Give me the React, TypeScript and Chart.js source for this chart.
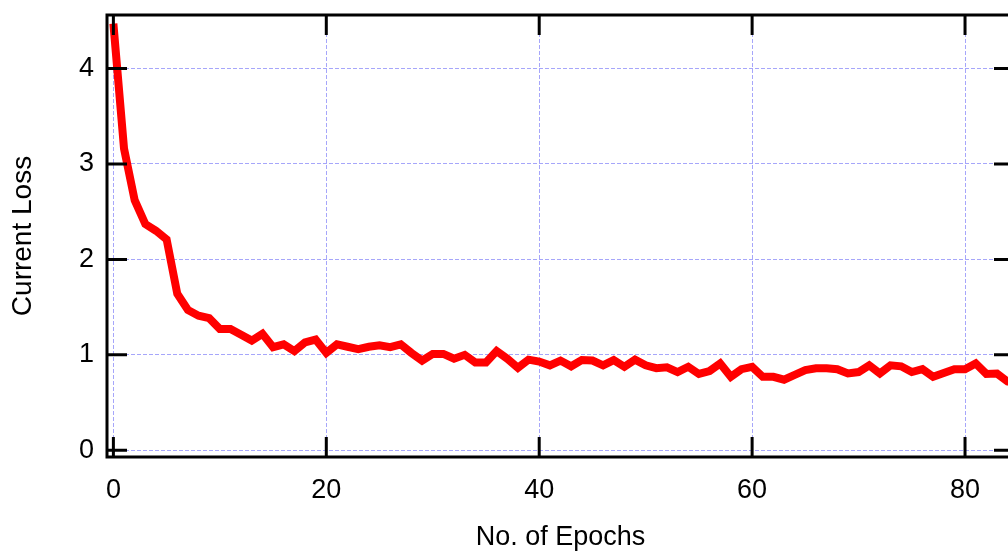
import React, { useEffect, useRef } from "react";
import { Chart, registerables } from "chart.js";

Chart.register(...registerables);

const lossValues: number[] = [
  4.47, 3.16, 2.62, 2.37, 2.30, 2.21, 1.64, 1.47, 1.41, 1.385,
  1.27, 1.27, 1.21, 1.15, 1.22, 1.08, 1.11, 1.04, 1.13, 1.16,
  1.02, 1.11, 1.085, 1.06, 1.085, 1.10, 1.08, 1.11, 1.02, 0.94,
  1.01, 1.01, 0.96, 1.00, 0.92, 0.92, 1.04, 0.96, 0.865, 0.95,
  0.93, 0.89, 0.94, 0.88, 0.945, 0.94, 0.89, 0.945, 0.875, 0.95,
  0.89, 0.86, 0.87, 0.82, 0.875, 0.80, 0.83, 0.91, 0.77, 0.85,
  0.875, 0.77, 0.77, 0.74, 0.79, 0.84, 0.86, 0.86, 0.85, 0.805,
  0.82, 0.89, 0.805, 0.89, 0.88, 0.82, 0.85, 0.77, 0.81, 0.85,
  0.85, 0.91, 0.80, 0.805, 0.72, 0.70,
];
const epochs: number[] = lossValues.map((_, i) => i);
const xTicks: number[] = [0, 20, 40, 60, 80];
const yTicks: number[] = [0, 1, 2, 3, 4];

const X_TITLE = "No. of Epochs";
const Y_TITLE = "Current Loss";

const FONT = "'Liberation Sans', Arial, sans-serif";
const GRID_COLOR = "#a6a6fa";

const framePlugin = {
  id: "gnuplotFrame",
  afterDatasetsDraw(chart: any) {
    const { ctx, chartArea } = chart;
    const { left, right, top, bottom } = chartArea;
    const xs = chart.scales.x;
    const ys = chart.scales.y;
    const tickLen = 20;
    ctx.save();
    ctx.setLineDash([]);
    ctx.strokeStyle = "#000";
    ctx.lineWidth = 3;
    ctx.lineCap = "butt";
    ctx.beginPath();
    for (const v of xTicks) {
      const px = xs.getPixelForValue(v);
      ctx.moveTo(px, bottom);
      ctx.lineTo(px, bottom - tickLen);
      ctx.moveTo(px, top);
      ctx.lineTo(px, top + tickLen);
    }
    for (const v of yTicks) {
      const py = ys.getPixelForValue(v);
      ctx.moveTo(left, py);
      ctx.lineTo(left + tickLen, py);
      ctx.moveTo(right, py);
      ctx.lineTo(right - tickLen, py);
    }
    ctx.stroke();
    ctx.strokeRect(left, top, right - left, bottom - top);
    ctx.restore();
  },
};

export default function App() {
  const ref = useRef<HTMLCanvasElement | null>(null);

  useEffect(() => {
    if (!ref.current) return;
    const chart = new Chart(ref.current, {
      type: "line",
      data: {
        datasets: [
          {
            data: epochs.map((e, i) => ({ x: e, y: lossValues[i] })),
            borderColor: "#ff0000",
            backgroundColor: "#ff0000",
            borderWidth: 8,
            pointRadius: 0,
            tension: 0,
            fill: false,
          },
        ],
      },
      options: {
        animation: false,
        responsive: false,
        maintainAspectRatio: false,
        layout: { padding: { top: 15, right: 26, left: 0, bottom: 0 } },
        plugins: {
          legend: { display: false },
          tooltip: { enabled: false },
        },
        scales: {
          x: {
            type: "linear",
            min: -0.6,
            max: 84.6,
            afterFit: (s: any) => {
              s.height = 99;
              s.paddingLeft = 0;
              s.paddingRight = 0;
            },
            afterBuildTicks: (s: any) => {
              s.ticks = xTicks.map((v) => ({ value: v }));
            },
            border: { display: false, dash: [4, 2] },
            grid: {
              color: GRID_COLOR,
              lineWidth: 1,
              drawTicks: false,
            },
            ticks: {
              padding: 17,
              color: "#000",
              font: { family: FONT, size: 27 },
              maxRotation: 0,
            },
            title: {
              display: true,
              text: X_TITLE,
              color: "#000",
              font: { family: FONT, size: 27 },
              padding: { top: 0, bottom: 2 },
            },
          },
          y: {
            type: "linear",
            min: -0.07,
            max: 4.56,
            afterFit: (s: any) => {
              s.width = 107;
              s.paddingTop = 0;
              s.paddingBottom = 0;
            },
            afterBuildTicks: (s: any) => {
              s.ticks = yTicks.map((v) => ({ value: v }));
            },
            border: { display: false, dash: [4, 2] },
            grid: {
              color: GRID_COLOR,
              lineWidth: 1,
              drawTicks: false,
            },
            ticks: {
              padding: 13,
              color: "#000",
              font: { family: FONT, size: 27 },
            },
            title: {
              display: true,
              text: Y_TITLE,
              color: "#000",
              font: { family: FONT, size: 28 },
              padding: { top: 6, bottom: 0 },
            },
          },
        },
      },
      plugins: [framePlugin],
    });
    return () => chart.destroy();
  }, []);

  return (
    <div
      style={{
        position: "fixed",
        left: 0,
        top: 0,
        width: 1008,
        height: 556,
        overflow: "hidden",
        background: "#fff",
      }}
    >
      <canvas
        ref={ref}
        width={1040}
        height={556}
        style={{ width: 1040, height: 556, display: "block" }}
      />
    </div>
  );
}
